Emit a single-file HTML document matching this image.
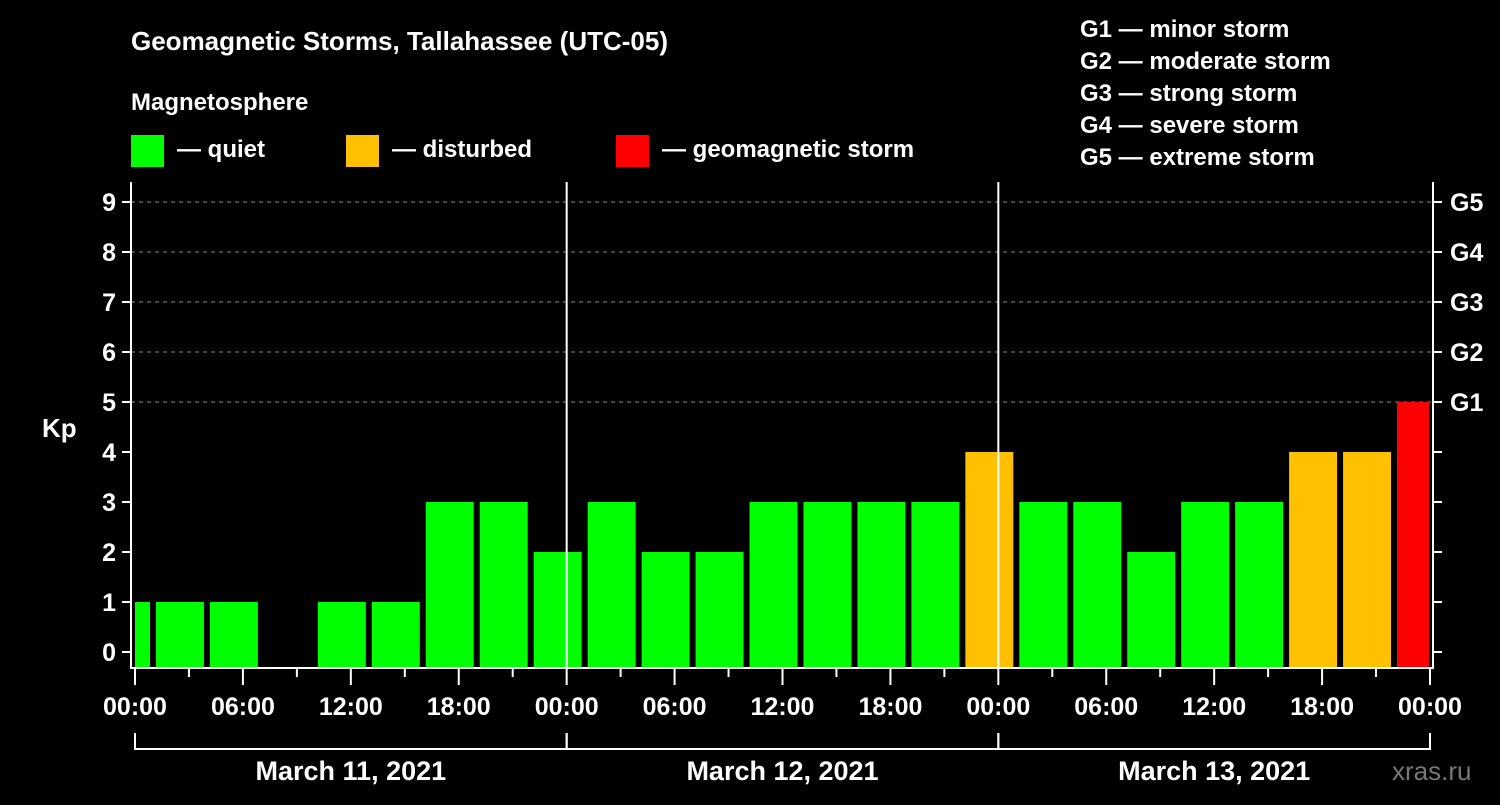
<!DOCTYPE html>
<html><head><meta charset="utf-8"><style>
body{margin:0;background:#000;width:1500px;height:800px;overflow:hidden}
svg text{font-family:"Liberation Sans",sans-serif;font-weight:bold;fill:#fff}
</style></head><body>
<svg id="chart" width="1500" height="800" xmlns="http://www.w3.org/2000/svg">
<rect width="1500" height="800" fill="#000"/>
<text x="131" y="50" font-size="26">Geomagnetic Storms, Tallahassee (UTC-05)</text>
<text x="131" y="110" font-size="24">Magnetosphere</text>
<g><rect x="131" y="135" width="33" height="32" fill="#00ff00"/><text x="177" y="157" font-size="24">— quiet</text></g>
<g><rect x="346" y="135" width="33" height="32" fill="#ffc000"/><text x="392" y="157" font-size="24">— disturbed</text></g>
<g><rect x="616" y="135" width="33" height="32" fill="#ff0000"/><text x="662" y="157" font-size="24">— geomagnetic storm</text></g>
<g font-size="24">
<text x="1080" y="37">G1 — minor storm</text>
<text x="1080" y="69">G2 — moderate storm</text>
<text x="1080" y="101">G3 — strong storm</text>
<text x="1080" y="133">G4 — severe storm</text>
<text x="1080" y="165">G5 — extreme storm</text>
</g>
<text x="42" y="437" font-size="26">Kp</text>
<text x="1392" y="780" font-size="26" style="fill:#777;font-weight:normal">xras.ru</text>
<g id="grid"></g><g id="bars"></g><g id="axes"></g>
</svg>
<script>
const kpValues=[1,1,1,0,1,1,3,3,2,3,2,2,3,3,3,3,4,3,3,2,3,3,4,4,5];
const slotStartHour=-2; // first slot begins 22:00 previous day (local)
const xTickLabels=["00:00","06:00","12:00","18:00","00:00","06:00","12:00","18:00","00:00","06:00","12:00","18:00","00:00"];
const yTickLabels=["0","1","2","3","4","5","6","7","8","9"];
const gLabels=["G1","G2","G3","G4","G5"];
const dayLabels=["March 11, 2021","March 12, 2021","March 13, 2021"];
const NS="http://www.w3.org/2000/svg";
const X0=135,X1=1430,PL=131,PR=1433,PT=182,PB=668;
const x=h=>X0+h*(X1-X0)/72;
const y=v=>652-50*v;
function mk(tag,attrs,parent,text){const e=document.createElementNS(NS,tag);for(const k in attrs)e.setAttribute(k,attrs[k]);if(text!==undefined)e.textContent=text;parent.appendChild(e);return e;}
const grid=document.getElementById('grid'),bars=document.getElementById('bars'),axes=document.getElementById('axes');
for(let v=5;v<=9;v++){const l=mk('line',{x1:PL,x2:PR,y1:y(v),y2:y(v),stroke:'#888','stroke-dasharray':'4,4','stroke-width':1},grid);

}
kpValues.forEach((v,i)=>{if(v<=0)return;
let a=x(slotStartHour+3*i)+3,b=x(slotStartHour+3*i+3)-3;a=Math.max(a,PL+4);b=Math.min(b,PR-4);
const c=v>=5?'#ff0000':(v>=4?'#ffc000':'#00ff00');
const r=mk('rect',{x:a,y:y(v),width:b-a,height:PB-y(v),fill:c},bars);

});
// day separators
[24,48].forEach(h=>{const l=mk('line',{x1:x(h),x2:x(h),y1:PT,y2:PB,stroke:'#fff','stroke-width':2},axes);

});
const fr=mk('path',{d:`M${PL} ${PT}V${PB}H${PR}V${PT}`,fill:'none',stroke:'#fff','stroke-width':2},axes);


yTickLabels.forEach((t,v)=>{mk('line',{x1:PL-9,x2:PL,y1:y(v),y2:y(v),stroke:'#fff','stroke-width':2},axes);
mk('line',{x1:PR,x2:PR+9,y1:y(v),y2:y(v),stroke:'#fff','stroke-width':2},axes);
const tx=mk('text',{x:PL-15,y:y(v)+9,'font-size':25,'text-anchor':'end'},axes,t);

});
gLabels.forEach((t,i)=>{const tx=mk('text',{x:1450,y:y(5+i)+9,'font-size':25},axes,t);

});
for(let h=0;h<=72;h+=3){const major=h%6===0;mk('line',{x1:x(h),x2:x(h),y1:PB,y2:PB+(major?17:9),stroke:'#fff','stroke-width':2},axes);}
xTickLabels.forEach((t,i)=>{const tx=mk('text',{x:x(6*i),y:715,'font-size':25,'text-anchor':'middle'},axes,t);

});
dayLabels.forEach((t,i)=>{const a=x(24*i),b=x(24*i+24);
const p=mk('path',{d:`M${a} 733V749H${b}V733`,fill:'none',stroke:'#fff','stroke-width':2},axes);


const tx=mk('text',{x:(a+b)/2,y:780,'font-size':27,'text-anchor':'middle'},axes,t);

});
</script>
</body></html>
